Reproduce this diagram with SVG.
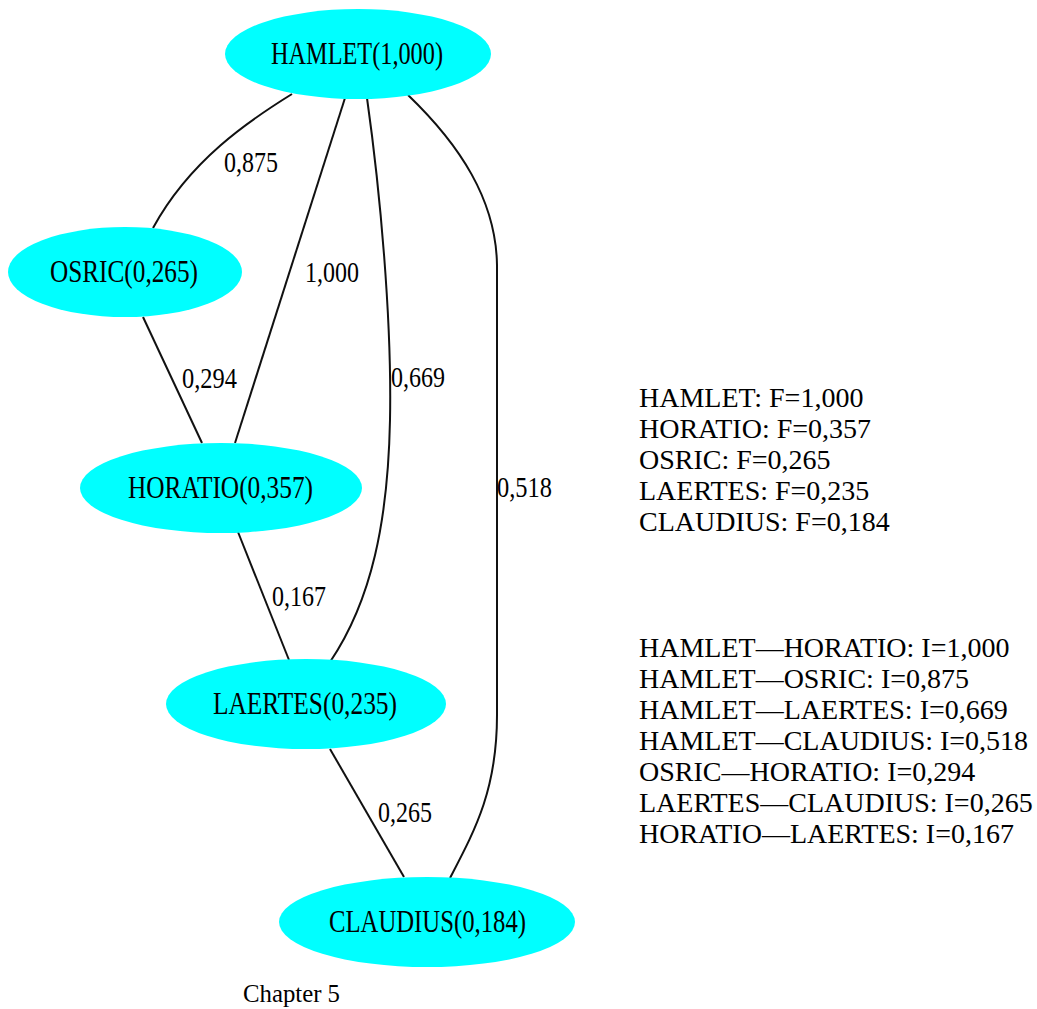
<svg xmlns="http://www.w3.org/2000/svg" width="1037" height="1009" viewBox="0 0 1037 1009">
<style>
.node ellipse{fill:#00ffff;stroke:none}
.nt{font-family:"Liberation Serif","Times New Roman",serif;font-size:31px;fill:#000;text-anchor:start}
.el{font-family:"Liberation Serif","Times New Roman",serif;font-size:30px;fill:#000}
.edges path{fill:none;stroke:#111;stroke-width:2}
.lg{font-family:"Liberation Serif","Times New Roman",serif;font-size:28px;fill:#000}
</style>
<rect width="1037" height="1009" fill="#fff"/>
<g id="edges" class="edges">
<path id="e-hamlet-osric" d="M292,94 C250,120 190,160 153,228"/>
<path id="e-hamlet-horatio" d="M345,98 L235,443"/>
<path id="e-hamlet-laertes" d="M367,98 C380,190 392,320 390,420 C388,520 372,600 330,662"/>
<path id="e-hamlet-claudius" d="M408,95 C460,145 496,200 497,265 L497,715 C497,790 475,830 450,878"/>
<path id="e-osric-horatio" d="M143,317 L202,443"/>
<path id="e-horatio-laertes" d="M238,532 L289,660"/>
<path id="e-laertes-claudius" d="M330,749 L404,877"/>
<text class="el" x="224" y="172" textLength="54" lengthAdjust="spacingAndGlyphs">0,875</text>
<text class="el" x="305" y="282" textLength="54" lengthAdjust="spacingAndGlyphs">1,000</text>
<text class="el" x="391" y="387" textLength="54" lengthAdjust="spacingAndGlyphs">0,669</text>
<text class="el" x="497" y="497" textLength="55" lengthAdjust="spacingAndGlyphs">0,518</text>
<text class="el" x="182" y="388" textLength="55" lengthAdjust="spacingAndGlyphs">0,294</text>
<text class="el" x="272" y="606" textLength="54" lengthAdjust="spacingAndGlyphs">0,167</text>
<text class="el" x="378" y="822" textLength="54" lengthAdjust="spacingAndGlyphs">0,265</text>
</g>
<g id="hamlet" class="node"><ellipse cx="358" cy="54" rx="133" ry="45"/><text class="nt" x="271" y="64" textLength="172" lengthAdjust="spacingAndGlyphs">HAMLET(1,000)</text></g>
<g id="osric" class="node"><ellipse cx="125" cy="272" rx="117" ry="45"/><text class="nt" x="50" y="282" textLength="148" lengthAdjust="spacingAndGlyphs">OSRIC(0,265)</text></g>
<g id="horatio" class="node"><ellipse cx="221" cy="488" rx="141" ry="45"/><text class="nt" x="128" y="498" textLength="185" lengthAdjust="spacingAndGlyphs">HORATIO(0,357)</text></g>
<g id="laertes" class="node"><ellipse cx="306" cy="704" rx="140" ry="45"/><text class="nt" x="213" y="714" textLength="184" lengthAdjust="spacingAndGlyphs">LAERTES(0,235)</text></g>
<g id="claudius" class="node"><ellipse cx="427" cy="922" rx="148" ry="45"/><text class="nt" x="329" y="932" textLength="197" lengthAdjust="spacingAndGlyphs">CLAUDIUS(0,184)</text></g>
<text class="el" x="243" y="1002" style="font-size:26px" textLength="97" lengthAdjust="spacingAndGlyphs">Chapter 5</text>
<g id="legend">
<text class="lg" x="639" y="407">HAMLET: F=1,000</text>
<text class="lg" x="639" y="438">HORATIO: F=0,357</text>
<text class="lg" x="639" y="469">OSRIC: F=0,265</text>
<text class="lg" x="639" y="500">LAERTES: F=0,235</text>
<text class="lg" x="639" y="531">CLAUDIUS: F=0,184</text>
<text class="lg" x="639" y="657">HAMLET—HORATIO: I=1,000</text>
<text class="lg" x="639" y="688">HAMLET—OSRIC: I=0,875</text>
<text class="lg" x="639" y="719">HAMLET—LAERTES: I=0,669</text>
<text class="lg" x="639" y="750">HAMLET—CLAUDIUS: I=0,518</text>
<text class="lg" x="639" y="781">OSRIC—HORATIO: I=0,294</text>
<text class="lg" x="639" y="812">LAERTES—CLAUDIUS: I=0,265</text>
<text class="lg" x="639" y="843">HORATIO—LAERTES: I=0,167</text>
</g>
</svg>
